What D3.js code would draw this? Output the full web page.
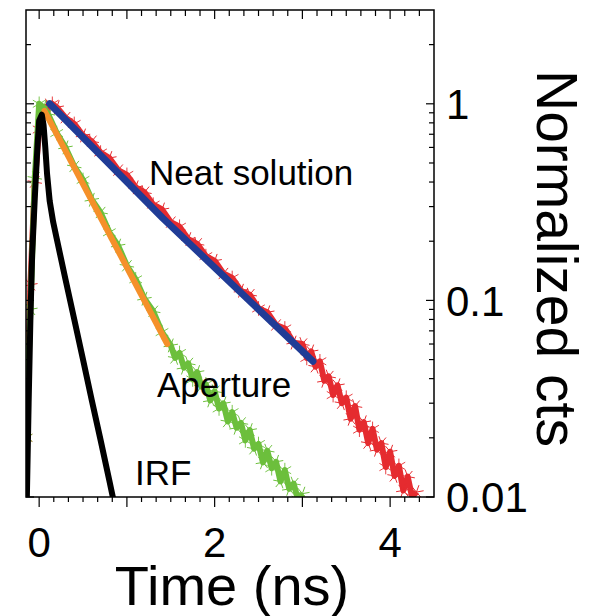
<!DOCTYPE html>
<html>
<head>
<meta charset="utf-8">
<script src="https://cdn.jsdelivr.net/npm/d3@7"></script>
<style>
  body { margin: 0; background: #fff; }
  svg text { font-family: "Liberation Sans", Arial, sans-serif; fill: #000; }
</style>
</head>
<body>
<div id="chart"></div>
<script>
// --- data (time in ns, normalized counts) ---
var neatTime = [-0.15, -0.1, -0.05, 0, 0.05, 0.1, 0.15, 0.2, 0.3, 0.4, 0.5, 0.6, 0.7, 0.8, 0.9, 1.0,
  1.1, 1.2, 1.3, 1.4, 1.5, 1.6, 1.7, 1.8, 1.9, 2.0, 2.1, 2.2, 2.3, 2.4, 2.5, 2.6, 2.7, 2.8, 2.9,
  3.0, 3.05, 3.1, 3.15, 3.2, 3.25, 3.3, 3.35, 3.4, 3.45, 3.5, 3.55, 3.6, 3.65, 3.7, 3.75, 3.8,
  3.85, 3.9, 3.95, 4.0, 4.05, 4.1, 4.15, 4.2, 4.25, 4.3];
var neatCts = [0.02, 0.12, 0.40, 0.74, 0.92, 0.98, 1.0, 0.96, 0.85, 0.79, 0.69, 0.645, 0.565, 0.53, 0.46, 0.435,
  0.376, 0.355, 0.307, 0.29, 0.25, 0.237, 0.205, 0.194, 0.168, 0.159, 0.137, 0.130, 0.112, 0.107, 0.091, 0.087, 0.075, 0.072, 0.061,
  0.060, 0.051, 0.055, 0.046, 0.049, 0.039, 0.041, 0.033, 0.037, 0.030, 0.032, 0.025, 0.029, 0.022, 0.0240, 0.0188, 0.0222,
  0.0174, 0.0188, 0.0142, 0.0170, 0.0128, 0.0144, 0.0108, 0.0127, 0.0100, 0.0106];

var apertureTime = [-0.15, -0.1, -0.05, 0, 0.05, 0.1, 0.2, 0.3, 0.4, 0.5, 0.6, 0.7, 0.8, 0.9, 1.0, 1.1, 1.2, 1.3, 1.4,
  1.5, 1.55, 1.6, 1.65, 1.7, 1.75, 1.8, 1.85, 1.9, 1.95, 2.0, 2.05, 2.1, 2.15, 2.2, 2.25, 2.3, 2.35, 2.4,
  2.45, 2.5, 2.55, 2.6, 2.65, 2.7, 2.75, 2.8, 2.85, 2.9, 2.95, 3.0];
var apertureCts = [0.02, 0.09, 0.42, 1.0, 0.96, 0.89, 0.71, 0.60, 0.48, 0.41, 0.325, 0.28, 0.222, 0.19, 0.150, 0.128, 0.102, 0.088, 0.069,
  0.059, 0.0510, 0.0540, 0.0455, 0.0478, 0.0396, 0.0432, 0.0364, 0.0374, 0.0310, 0.0345, 0.0282, 0.0299, 0.0242, 0.0270, 0.0225, 0.0238, 0.0194, 0.0219,
  0.0176, 0.0186, 0.0150, 0.0172, 0.0140, 0.0151, 0.0120, 0.0137, 0.0110, 0.0117, 0.0097, 0.0104];

var neatFitTime = [0.12, 1.41, 3.12];
var neatFitCts = [1.0, 0.262, 0.049];
var apertureFitTime = [0.06, 1.46];
var apertureFitCts = [0.92, 0.060];

var irfTime = [-0.14, -0.12, -0.1, -0.08, -0.05, -0.02, 0, 0.03, 0.05, 0.07, 0.09, 0.12, 0.16, 0.2, 0.3, 0.4, 0.5, 0.6, 0.7, 0.8, 0.85];
var irfCts = [0.01, 0.03, 0.08, 0.17, 0.33, 0.6, 0.82, 0.88, 0.78, 0.6, 0.44, 0.32, 0.25, 0.206, 0.128, 0.080, 0.050, 0.031, 0.0195, 0.0121, 0.0095];

var xLabels = [0, 2, 4];
var yLabels = [1, 0.1, 0.01];

var red = "#e52b2f", green = "#6cbf3c", blue = "#203c96", orange = "#f5902a";

var box = { left: 26, right: 434, top: 10, bottom: 497 };

var svg = d3.select("#chart").append("svg")
  .attr("width", 589)
  .attr("height", 616);

var x = d3.scaleLinear().domain([-0.15, 4.5]).range([box.left, box.right]);
var y = d3.scaleLog().domain([0.01, 3]).range([box.bottom, box.top]);

function pairs(t, v) {
  return t.map(function(d, i) { return [d, v[i]]; });
}

svg.append("clipPath").attr("id", "plotclip")
  .append("rect")
    .attr("x", box.left).attr("y", box.top)
    .attr("width", box.right - box.left).attr("height", box.bottom - box.top);

var plot = svg.append("g").attr("clip-path", "url(#plotclip)");

var line = d3.line()
  .x(function(d) { return x(d[0]); })
  .y(function(d) { return y(d[1]); });

var star = d3.symbol().type(d3.symbolAsterisk || d3.symbolCross).size(150);

// noisy decays: thick band plus star markers
function dataSeries(t, v, col) {
  var pts = pairs(t, v);
  plot.append("path")
    .attr("d", line(pts))
    .attr("fill", "none")
    .attr("stroke", col)
    .attr("stroke-width", 6)
    .attr("stroke-linejoin", "round");
  plot.selectAll(null)
    .data(pts)
    .enter()
    .append("path")
      .attr("d", star)
      .attr("transform", function(d, i) { return "translate(" + x(d[0]) + "," + y(d[1]) + ") rotate(" + (i % 3) * 20 + ")"; })
      .attr("fill", "none")
      .attr("stroke", col)
      .attr("stroke-width", 0.9);
}

dataSeries(neatTime, neatCts, red);
dataSeries(apertureTime, apertureCts, green);

function fitLine(t, v, col, w) {
  plot.append("path")
    .attr("d", line(pairs(t, v)))
    .attr("fill", "none")
    .attr("stroke", col)
    .attr("stroke-width", w)
    .attr("stroke-linecap", "round")
    .attr("stroke-linejoin", "round");
}

fitLine(neatFitTime, neatFitCts, blue, 7);
fitLine(apertureFitTime, apertureFitCts, orange, 6);
fitLine(irfTime, irfCts, "#000", 6);

// --- frame and ticks ---
var xMajor = d3.range(0, 5, 1);
var xMinor = d3.range(-1, 28).map(function(k) { return k / 6; })
  .filter(function(d) { return d > -0.15 && d < 4.5 && Math.abs(d - Math.round(d)) > 1e-6; });

var yMajor = [0.01, 0.1, 1];
var yMinor = [];
[0.01, 0.1, 1].forEach(function(dec) {
  d3.range(2, 10).forEach(function(m) {
    var v = m * dec;
    if (v < 2.9) yMinor.push(v);
  });
});

var axes = svg.append("g").attr("stroke", "#000").attr("stroke-width", 1.2);

function ticks(vals, len, side) {
  vals.forEach(function(v) {
    if (side === "bottom") {
      axes.append("line").attr("x1", x(v)).attr("x2", x(v)).attr("y1", box.bottom).attr("y2", box.bottom + len);
    } else if (side === "top") {
      axes.append("line").attr("x1", x(v)).attr("x2", x(v)).attr("y1", box.top).attr("y2", box.top + len);
    } else if (side === "left") {
      axes.append("line").attr("x1", box.left).attr("x2", box.left + len).attr("y1", y(v)).attr("y2", y(v));
    } else {
      axes.append("line").attr("x1", box.right).attr("x2", box.right - len).attr("y1", y(v)).attr("y2", y(v));
    }
  });
}

ticks(xMajor, 10, "bottom");
ticks(xMinor, 5, "bottom");
ticks(xMajor, 9, "top");
ticks(xMinor, 6, "top");
ticks(yMajor, 8, "left");
ticks(yMinor, 5, "left");
ticks(yMajor, 8, "right");
ticks(yMinor, 5, "right");

svg.append("rect")
  .attr("x", box.left).attr("y", box.top)
  .attr("width", box.right - box.left).attr("height", box.bottom - box.top)
  .attr("fill", "none")
  .attr("stroke", "#000")
  .attr("stroke-width", 1.5);

// --- labels ---
svg.selectAll(".xlab")
  .data(xLabels)
  .enter()
  .append("text")
    .attr("class", "xlab")
    .attr("x", function(d) { return x(d); })
    .attr("y", 557)
    .attr("text-anchor", "middle")
    .style("font-size", "42px")
    .text(function(d) { return d; });

svg.selectAll(".ylab")
  .data(yLabels)
  .enter()
  .append("text")
    .attr("class", "ylab")
    .attr("x", 446)
    .attr("y", function(d) { return y(d); })
    .attr("dy", "0.36em")
    .style("font-size", "42px")
    .text(function(d) { return d; });

svg.append("text")
  .attr("x", 232)
  .attr("y", 605)
  .attr("text-anchor", "middle")
  .style("font-size", "56px")
  .text("Time (ns)");

svg.append("text")
  .attr("transform", "translate(537,70) rotate(90)")
  .style("font-size", "57px")
  .text("Normalized cts");

svg.append("text").attr("x", 149).attr("y", 185).style("font-size", "35px").text("Neat solution");
svg.append("text").attr("x", 157).attr("y", 397).style("font-size", "35px").text("Aperture");
svg.append("text").attr("x", 135).attr("y", 485).style("font-size", "35px").text("IRF");
</script>
</body>
</html>
